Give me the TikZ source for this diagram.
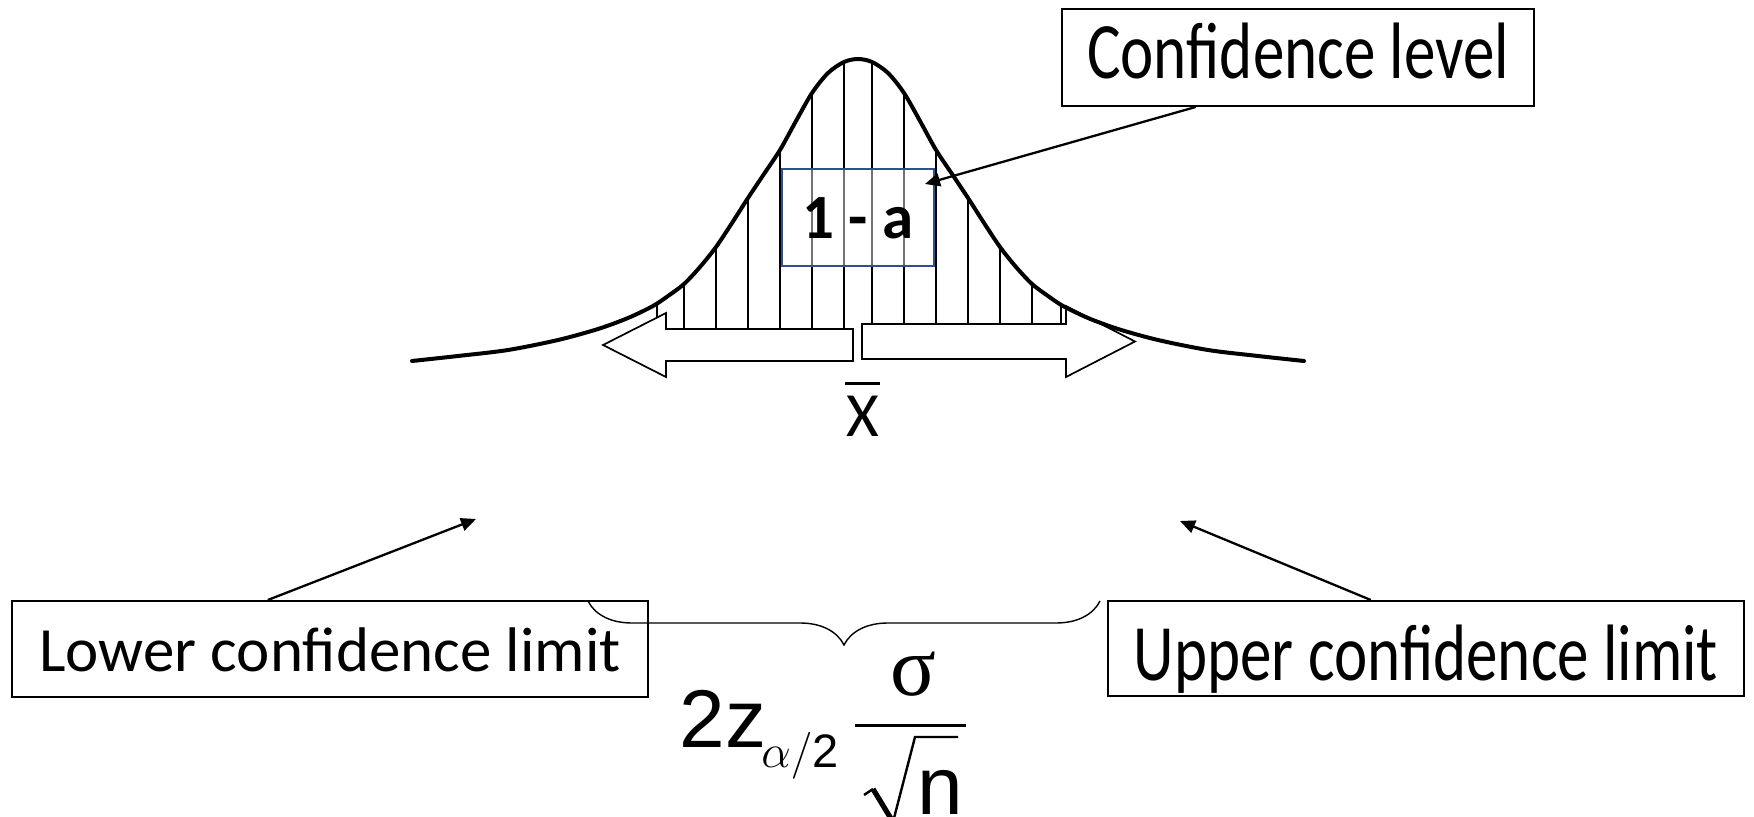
\RequirePackage{fix-cm}
\documentclass[tikz,border=0pt]{standalone}
\usepackage{fontspec}
\setmainfont{Carlito}
\newfontfamily\arialf{Liberation Sans}
\newfontfamily\timesf{Liberation Serif}
\usetikzlibrary{arrows.meta,decorations.pathreplacing,calc}
\definecolor{boxblue}{RGB}{47,82,143}
\tikzset{
  lbl/.style={draw, line width=1pt, inner sep=0pt, text depth=0pt,
    font=\fontsize{31.5pt}{36pt}\selectfont},
  conn/.style={line width=1.15pt, -{Triangle[length=7.5pt,width=6.5pt]}},
  blockarrow/.style={draw, fill=white, line width=0.85pt, line join=miter},
  hatch/.style={line width=0.85pt},
  bell/.style={line width=2pt, line cap=round},
  bracestyle/.style={line width=0.7pt, decorate, decoration={brace, mirror, amplitude=22pt}},
}
\begin{document}
\begin{tikzpicture}[x=0.5pt,y=-0.5pt]
\path[use as bounding box] (0,0) rectangle (1754,817);
\clip (0,0) rectangle (1754,817);

% hatch lines under the bell curve
\begin{scope}
  \clip plot[smooth] coordinates {(412,361) (458,356) (508,350) (558,340) (598,329) (628,318) (653,306) (668,296) (684,284) (700,267) (716,247) (732,223) (748,198) (764,174) (780,150) (796,121) (812,93) (828,73) (844,62) (858,59) (872,62) (888,73) (904,93) (920,121) (936,150) (952,174) (968,198) (984,223) (1000,247) (1016,267) (1032,284) (1048,296) (1063,306) (1088,318) (1118,329) (1158,340) (1208,350) (1258,356) (1304,361)} -- (1304,400) -- (412,400) -- cycle;
  \foreach \x in {657,684,716,748,780,812,844,872,904,936,968,1000,1032,1061}
    \draw[hatch] (\x,40) -- (\x,345);
\end{scope}

% confidence box 1 - a
\node[draw=boxblue, fill=white, fill opacity=0.45, text opacity=1, line width=0.85pt,
  minimum width=76pt, minimum height=48.5pt, inner sep=0pt, text height=21.5pt, text depth=0pt,
  font=\fontsize{31.5pt}{36pt}\selectfont\bfseries] (ci) at (858,217.5) {1 - a};

% block arrows
\draw[blockarrow] (603,345) -- (666,313) -- (666,329) -- (853,329) -- (853,361) -- (666,361) -- (666,377) -- cycle;
\draw[blockarrow] (1135,341.5) -- (1066,306) -- (1066,324) -- (862,324) -- (862,359) -- (1066,359) -- (1066,377) -- cycle;

% bell curve
\draw[bell] plot[smooth] coordinates {(412,361) (458,356) (508,350) (558,340) (598,329) (628,318) (653,306) (668,296) (684,284) (700,267) (716,247) (732,223) (748,198) (764,174) (780,150) (796,121) (812,93) (828,73) (844,62) (858,59) (872,62) (888,73) (904,93) (920,121) (936,150) (952,174) (968,198) (984,223) (1000,247) (1016,267) (1032,284) (1048,296) (1063,306) (1088,318) (1118,329) (1158,340) (1208,350) (1258,356) (1304,361)};

% x-bar
\node[anchor=base, inner sep=0pt, font=\fontsize{31.5pt}{36pt}\selectfont] (xbar) at (862.5,437)
  {\vbox{\hrule height 1.5pt width 17.5pt\kern 6pt\hbox to 17.5pt{\hss X\hss}}};

% label boxes
\node[lbl, minimum width=318pt, minimum height=48pt, text height=22pt] (lower) at (330,649) {Lower confidence limit};
\node[lbl, minimum width=318pt, minimum height=47.5pt, text height=31.5pt] (upper) at (1426,648.5) {\scalebox{1}[1.27]{Upper confidence limit}};
\node[lbl, minimum width=236pt, minimum height=48.5pt, text height=21.5pt] (conf) at (1298,57.5) {\scalebox{1}[1.27]{Confidence level}};

% connectors
\coordinate (citip) at (925,184);
\coordinate (lowtip) at (476,519);
\coordinate (uptip) at (1180,521);
\draw[conn] ($(conf.south west)!0.284!(conf.south east)$) -- (citip);
\draw[conn] ($(lower.north west)!0.4025!(lower.north east)$) -- (lowtip);
\draw[conn] ($(upper.north west)!0.4135!(upper.north east)$) -- (uptip);

% brace
\coordinate (braceL) at (588,601);
\coordinate (braceR) at (1100,601);
\draw[bracestyle] (braceL) -- (braceR);

% formula
\node[anchor=base west, inner sep=0pt, font=\arialf\fontsize{41pt}{48pt}\selectfont] (twoz) at (679.5,747) {2z};
\node[anchor=base west, inner sep=0pt, font=\fontsize{23.5pt}{28pt}\selectfont] (sub) at (761,767) {$\alpha/$\arialf 2};
\node[anchor=base, inner sep=0pt, font=\timesf\fontsize{42.5pt}{50pt}\selectfont] (sigma) at (913,695) {σ};
\draw[line width=1.5pt] (855,725) -- (966,725);
\node[anchor=base west, inner sep=0pt, font=\arialf\fontsize{41pt}{48pt}\selectfont] (nn) at (916.6,814.5) {n};
\draw[line width=1.2pt] (864,795) -- (873,789);
\draw[line width=2.6pt] (873,789) -- (893,822);
\draw[line width=1.2pt, line join=miter] (893,822) -- (915,737) -- (958,737);
\end{tikzpicture}
\end{document}
